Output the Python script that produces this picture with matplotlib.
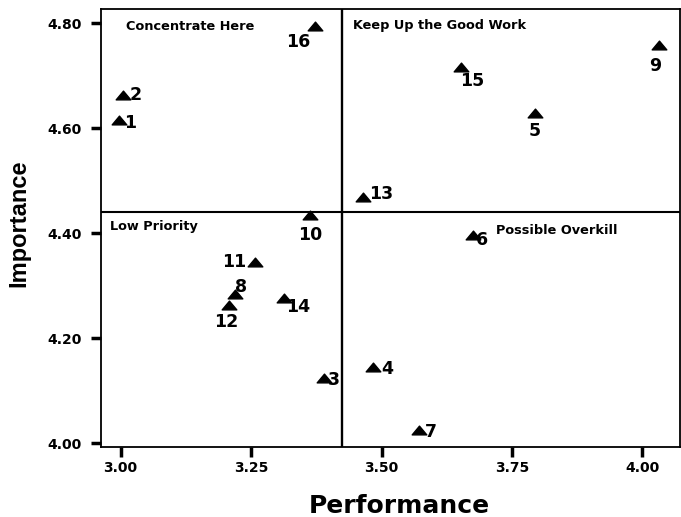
import matplotlib.pyplot as plt
from matplotlib.path import Path

# attribute scores
ids = ['1', '2', '3', '4', '5', '6', '7', '8', '9', '10', '11', '12', '13', '14', '15', '16']
performance = [2.998, 3.005, 3.389, 3.484, 3.794, 3.675, 3.571, 3.219, 4.032, 3.363,
               3.258, 3.208, 3.465, 3.314, 3.652, 3.373]
importance = [4.615, 4.663, 4.123, 4.145, 4.629, 4.396, 4.025, 4.284, 4.759, 4.434,
              4.345, 4.263, 4.469, 4.276, 4.717, 4.794]

# label offsets in pixels (dx right, dy down)
label_off = {'1': (11, 3), '2': (13, 0), '3': (10, 2), '4': (14, 2), '5': (0, 18),
             '6': (9, 5), '7': (12, 2), '8': (6, -7), '9': (-4, 21), '10': (0, 20),
             '11': (-21, 0), '12': (-3, 17), '13': (18, -3), '14': (14, 9),
             '15': (11, 14), '16': (-17, 16)}

x_mean = 3.425
y_mean = 4.44

W, H = 681, 517

plt.rcParams['font.family'] = ['DejaVu Sans']
plt.rcParams['font.weight'] = 'bold'

fig = plt.figure(figsize=(W / 100, H / 100), dpi=100)
ax = fig.add_axes([0.1483, 0.1354, 0.8502, 0.8472])

tri = Path([(-1, -0.6), (1, -0.6), (0, 0.6), (-1, -0.6)],
           [Path.MOVETO, Path.LINETO, Path.LINETO, Path.CLOSEPOLY])
ax.plot(performance, importance, linestyle='none', marker=tri, markersize=10.5,
        color='black')

for name, px, py in zip(ids, performance, importance):
    dx, dy = label_off[name]
    ax.annotate(name, (px, py), xytext=(dx * 0.72, -dy * 0.72), textcoords='offset points',
                ha='center', va='center', fontsize=12.5, fontweight='bold')

ax.axvline(x_mean, color='black', linewidth=1.7)
ax.axhline(y_mean, color='black', linewidth=1.5)

ax.set_xlim(2.9626, 4.0718)
ax.set_ylim(3.9924, 4.8267)

ax.set_xticks([3.00, 3.25, 3.50, 3.75, 4.00])
ax.set_xticklabels(['3.00', '3.25', '3.50', '3.75', '4.00'])
ax.set_yticks([4.00, 4.20, 4.40, 4.60, 4.80])
ax.set_yticklabels(['4.00', '4.20', '4.40', '4.60', '4.80'])
ax.tick_params(direction='out', length=7, width=2.5, labelsize=10)
ax.tick_params(axis='y', pad=7)
ax.tick_params(axis='x', pad=3)

for s in ax.spines.values():
    s.set_linewidth(1.3)

# quadrant names (pixel positions)
quads = [('Concentrate Here', 126, 26), ('Keep Up the Good Work', 353, 26),
         ('Low Priority', 110, 227), ('Possible Overkill', 496, 231)]
for txt, qx, qy in quads:
    fig.text(qx / W, 1 - qy / H, txt, fontsize=9.3, fontweight='bold', va='center')

fig.text(399 / W, 1 - 513 / H, 'Performance', fontsize=18, fontweight='bold',
         ha='center', va='baseline')
fig.text(19 / W, 1 - 223 / H, 'Importance', fontsize=17, fontweight='bold',
         ha='center', va='center', rotation=90, family='Liberation Sans')

fig.savefig('out.png', dpi=100)
